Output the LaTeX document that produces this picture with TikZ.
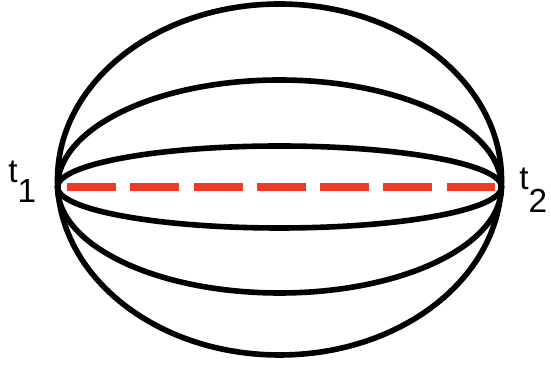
\documentclass[tikz,border=0pt]{standalone}
\usepackage{fontspec}
\setmainfont{Liberation Sans}
\usetikzlibrary{calc}
\definecolor{pathred}{RGB}{237,59,38}

\begin{document}
\begin{tikzpicture}[
    x=0.75pt, y=0.75pt,
    every node/.style={font=\fontsize{25}{25}\selectfont},
    curve/.style={draw=black, line width=4.2pt},
    straightpath/.style={draw=pathred, line width=6pt,
        dash pattern=on 36.75pt off 10.7pt},
    tlabel/.style={inner sep=0pt, anchor=base west},
]

% Parameters
\def\Rx{222}
\def\Rup{107}
\def\Rdown{106}
\def\Rin{41}

\useasboundingbox (0,0) rectangle (551,367);

% === End points and centre ===
\coordinate (t1) at (57.5,180);
\coordinate (t2) at (501.5,180);
\coordinate (c) at (279.5,180);
\coordinate (outerc) at (279.5,187.5);

% === Outer ellipse ===
\draw[curve] (outerc) ellipse [x radius=\Rx, y radius=175.5];

% === Upper and lower arcs through t1 and t2 ===
\draw[curve] (t1) arc[start angle=180, end angle=0, x radius=\Rx, y radius=\Rup];
\draw[curve] (t1) arc[start angle=180, end angle=360, x radius=\Rx, y radius=\Rdown];

% === Inner ellipse ===
\draw[curve] (c) ellipse [x radius=\Rx, y radius=\Rin];

% === Straight dashed path from t1 to t2 ===
\draw[straightpath] ($(t1)+(9.5,0)$) -- ($(t2)+(-6.5,0)$);

% Labels
\node[tlabel] (lbl1) at (8,184) {t\raisebox{-15pt}{1}};
\node[tlabel] (lbl2) at (519,177) {t\raisebox{-17pt}{2}};

\end{tikzpicture}
\end{document}
